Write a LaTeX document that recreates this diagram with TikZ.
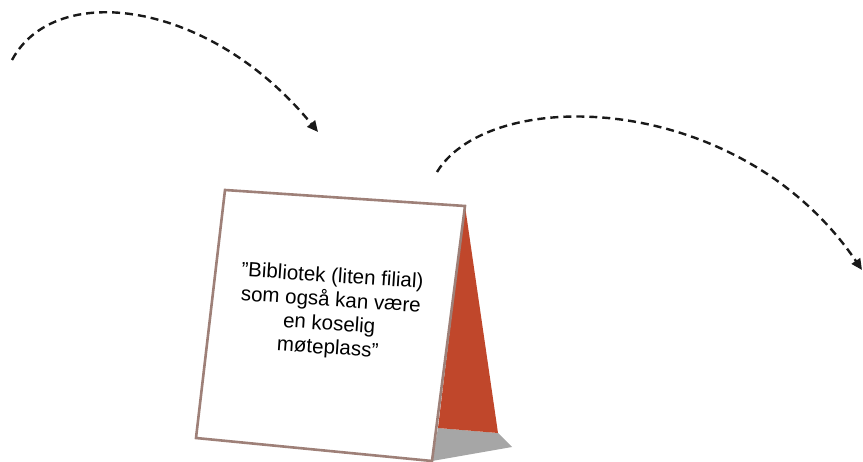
\documentclass[tikz,border=0pt]{standalone}
\usepackage{fontspec}
\setmainfont{Liberation Sans}
\usetikzlibrary{arrows.meta}
\definecolor{cardedge}{HTML}{9E8078}
\definecolor{tentred}{HTML}{C0472B}
\definecolor{tentgray}{HTML}{A6A6A6}
\tikzset{
  flowarrow/.style={draw=black!90, line width=2.4pt, dash pattern=on 8pt off 5pt,
    -{Triangle[length=11pt,width=10pt]}},
  cardface/.style={draw=cardedge, line width=2.6pt, fill=white, line join=miter},
  cardtext/.style={align=center, font=\fontsize{20.5}{24}\selectfont, rotate=-3.8, inner sep=0pt}
}
\begin{document}
\begin{tikzpicture}[x=1pt,y=-1pt]
\useasboundingbox (0,0) rectangle (863,462);
% coordinates
\coordinate (a1s) at (12,60);
\coordinate (a1e) at (318,132);
\coordinate (a2s) at (437,172);
\coordinate (a2e) at (862,270);
\coordinate (tl) at (225,190);
\coordinate (tr) at (465,206);
\coordinate (br) at (432,461);
\coordinate (bl) at (196,438);
\coordinate (rl) at (438,428);
\coordinate (rr) at (498,433);
\coordinate (gt) at (512,447);
% side and base
\fill[tentgray] (rl) -- (rr) -- (gt) -- (br) -- cycle;
\fill[tentred] (tr) -- (rr) -- (rl) -- cycle;
% front card
\draw[cardface] (tl) -- (tr) -- (br) -- (bl) -- cycle;
\node[cardtext] (label) at (330,313) {”Bibliotek (liten filial)\\som også kan være\\en koselig\\møteplass”};
% arrows
\draw[flowarrow] (a1s) .. controls (55,-20) and (210,0) .. (a1e);
\draw[flowarrow] (a2s) .. controls (490,85) and (740,90) .. (a2e);
\end{tikzpicture}
\end{document}
